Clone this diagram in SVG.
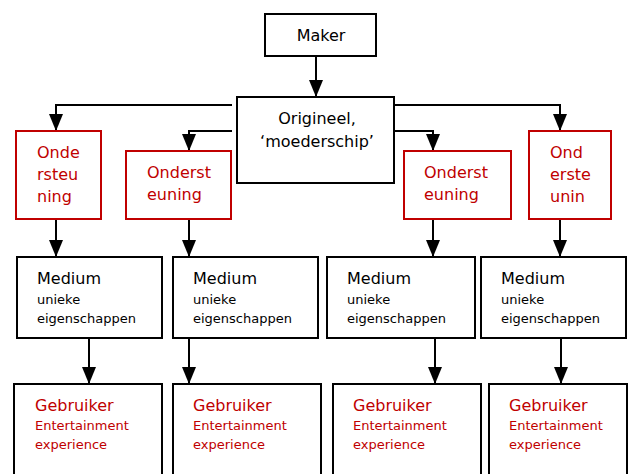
<svg xmlns="http://www.w3.org/2000/svg" width="632" height="474" viewBox="0 0 632 474">
<style>
.box{fill:#fff;stroke:#000;stroke-width:2}
.rbox{fill:#fff;stroke:#c00000;stroke-width:2}
.t{font-family:"DejaVu Sans",Verdana,sans-serif;fill:#000}
.r{fill:#c00000}
.l{font-size:16px}
.s{font-size:13px}
.c{fill:none;stroke:#000;stroke-width:2}
</style>
<defs>
<marker id="ah" markerUnits="userSpaceOnUse" markerWidth="17" markerHeight="14" refX="17" refY="7" orient="auto" viewBox="0 0 17 14">
<path d="M0,0 L17,7 L0,14 z" fill="#000"/>
</marker>
</defs>
<g id="connectors">
<path class="c" d="M316,56 L316,97" marker-end="url(#ah)"/>
<path class="c" d="M232,105 L56,105 L56,131" marker-end="url(#ah)"/>
<path class="c" d="M232,131 L189,131 L189,151" marker-end="url(#ah)"/>
<path class="c" d="M394,105 L560,105 L560,131" marker-end="url(#ah)"/>
<path class="c" d="M394,131 L433,131 L433,151" marker-end="url(#ah)"/>
<path class="c" d="M56,219 L56,257" marker-end="url(#ah)"/>
<path class="c" d="M189,219 L189,257" marker-end="url(#ah)"/>
<path class="c" d="M433,219 L433,257" marker-end="url(#ah)"/>
<path class="c" d="M560,219 L560,257" marker-end="url(#ah)"/>
<path class="c" d="M89,338 L89,384" marker-end="url(#ah)"/>
<path class="c" d="M189,338 L189,384" marker-end="url(#ah)"/>
<path class="c" d="M435,338 L435,384" marker-end="url(#ah)"/>
<path class="c" d="M561,338 L561,384" marker-end="url(#ah)"/>
</g>
<g id="maker">
<rect class="box" x="265" y="14" width="111" height="42"/>
<text class="t l" x="321" y="41" text-anchor="middle">Maker</text>
</g>
<g id="origineel">
<rect class="box" x="237" y="97" width="157" height="86"/>
<text class="t l" x="317" y="124" text-anchor="middle">Origineel,</text>
<text class="t l" x="317" y="147" text-anchor="middle">‘moederschip’</text>
</g>
<g id="ondersteuning1">
<rect class="rbox" x="16" y="131" width="85" height="88"/>
<text class="t l r" x="37" y="158">Onde</text>
<text class="t l r" x="37" y="180">rsteu</text>
<text class="t l r" x="37" y="202">ning</text>
</g>
<g id="ondersteuning2">
<rect class="rbox" x="126" y="151" width="105" height="68"/>
<text class="t l r" x="147" y="178">Onderst</text>
<text class="t l r" x="147" y="200">euning</text>
</g>
<g id="ondersteuning3">
<rect class="rbox" x="404" y="151" width="107" height="68"/>
<text class="t l r" x="424" y="178">Onderst</text>
<text class="t l r" x="424" y="200">euning</text>
</g>
<g id="ondersteuning4">
<rect class="rbox" x="529" y="131" width="82" height="88"/>
<text class="t l r" x="550" y="158">Ond</text>
<text class="t l r" x="550" y="180">erste</text>
<text class="t l r" x="550" y="202">unin</text>
</g>
<g id="medium1">
<rect class="box" x="17" y="257" width="145" height="81"/>
<text class="t l" x="37" y="284">Medium</text>
<text class="t s" x="37" y="304">unieke</text>
<text class="t s" x="37" y="323">eigenschappen</text>
</g>
<g id="medium2">
<rect class="box" x="173" y="257" width="145" height="81"/>
<text class="t l" x="193" y="284">Medium</text>
<text class="t s" x="193" y="304">unieke</text>
<text class="t s" x="193" y="323">eigenschappen</text>
</g>
<g id="medium3">
<rect class="box" x="327" y="257" width="148" height="81"/>
<text class="t l" x="347" y="284">Medium</text>
<text class="t s" x="347" y="304">unieke</text>
<text class="t s" x="347" y="323">eigenschappen</text>
</g>
<g id="medium4">
<rect class="box" x="481" y="257" width="145" height="81"/>
<text class="t l" x="501" y="284">Medium</text>
<text class="t s" x="501" y="304">unieke</text>
<text class="t s" x="501" y="323">eigenschappen</text>
</g>
<g id="gebruiker1">
<rect class="box" x="14" y="384" width="148" height="100"/>
<text class="t l r" x="35" y="411">Gebruiker</text>
<text class="t s r" x="35" y="430">Entertainment</text>
<text class="t s r" x="35" y="449">experience</text>
</g>
<g id="gebruiker2">
<rect class="box" x="173" y="384" width="148" height="100"/>
<text class="t l r" x="193" y="411">Gebruiker</text>
<text class="t s r" x="193" y="430">Entertainment</text>
<text class="t s r" x="193" y="449">experience</text>
</g>
<g id="gebruiker3">
<rect class="box" x="333" y="384" width="148" height="100"/>
<text class="t l r" x="353" y="411">Gebruiker</text>
<text class="t s r" x="353" y="430">Entertainment</text>
<text class="t s r" x="353" y="449">experience</text>
</g>
<g id="gebruiker4">
<rect class="box" x="489" y="384" width="138" height="100"/>
<text class="t l r" x="509" y="411">Gebruiker</text>
<text class="t s r" x="509" y="430">Entertainment</text>
<text class="t s r" x="509" y="449">experience</text>
</g>
</svg>
